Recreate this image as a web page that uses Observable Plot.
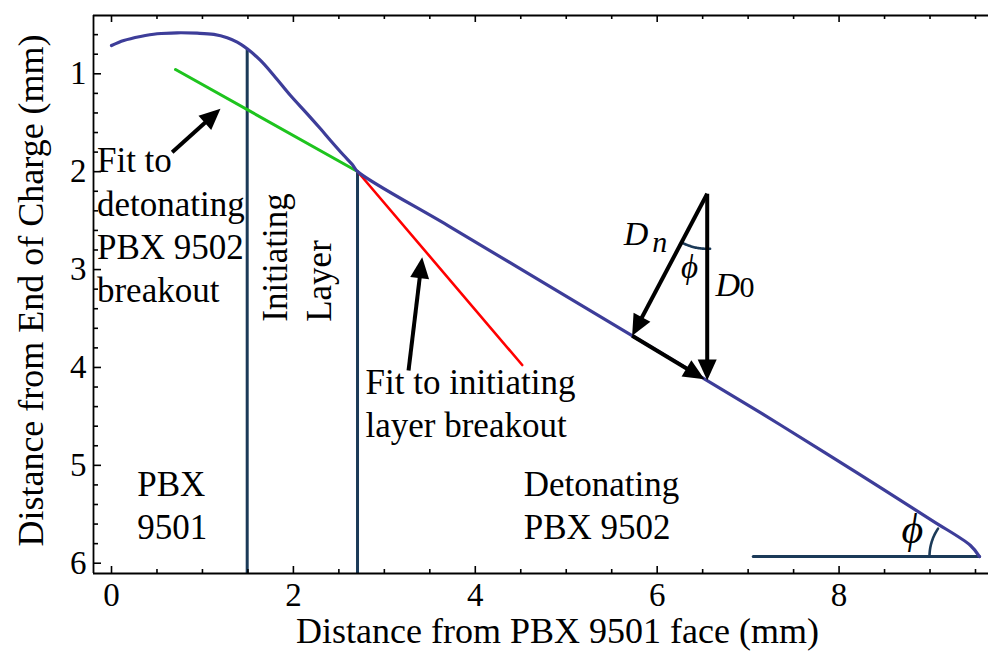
<!DOCTYPE html>
<html><head><meta charset="utf-8">
<script src="https://cdn.jsdelivr.net/npm/d3@7"></script>
<script src="https://cdn.jsdelivr.net/npm/@observablehq/plot@0.6"></script>
<style>
html,body{margin:0;padding:0;background:#fff;}
#chart svg{display:block;}
</style>
</head><body><div id="chart"></div>
<script>
// ---- measured breakout curve (distance from PBX 9501 face vs distance from end of charge, mm)
const curveX = [0.0,0.135,0.319,0.502,0.722,0.942,1.125,1.272,1.382,1.492,1.638,1.785,1.968,2.152,2.298,2.408,2.55,2.65,2.705,3.727,4.827,5.926,6.55,7.356,8.199,9.024,9.445,9.544];
const curveY = [0.711,0.66,0.619,0.591,0.581,0.585,0.598,0.632,0.677,0.745,0.864,1.017,1.222,1.409,1.562,1.681,1.83,1.93,1.998,2.566,3.177,3.788,4.134,4.588,5.078,5.564,5.819,5.932];

// ---- fits
const greenFitX = [0.704, 2.705];
const greenFitY = [0.956, 1.998];
const redFitX = [2.705, 4.516];
const redFitY = [1.998, 3.975];

// ---- boundaries (initiating layer)
const boundaryX = [1.492, 2.705];
const boundaryTopY = [0.745, 1.998];

// ---- horizontal reference line at the end
const baseLineX = [7.056, 9.544];
const baseLineY = [5.932, 5.932];

// ---- arrows
const arrowX1 = [0.667, 3.266, 6.55, 6.55, 5.725];
const arrowY1 = [1.801, 4.031, 2.226, 2.226, 3.677];
const arrowX2 = [1.198, 3.416, 5.725, 6.55, 6.52];
const arrowY2 = [1.358, 2.874, 3.677, 4.134, 4.12];

// ---- angle arcs: centres
const arcCX = [9.544, 6.55];
const arcCY = [5.932, 2.226];

// ---- text annotations
const noteText = ["Fit to\ndetonating\nPBX 9502\nbreakout", "Fit to initiating\nlayer breakout", "PBX\n9501", "Detonating\nPBX 9502"];
const noteX = [-0.16, 2.793, 0.283, 4.533];
const noteY = [3.333, 4.713, 5.751, 5.751];
const vertText = ["Initiating", "Layer"];
const vertX = [1.935, 2.408];
const vertY = [2.877, 3.117];
const mathText = ["D", "n", "\u03D5", "D", "0", "\u03D5"];
const mathX = [5.633, 5.945, 6.355, 6.641, 6.905, 8.807];
const mathY = [2.754, 2.823, 3.091, 3.265, 3.28, 5.794];

// ---- axes
const xTicks = [0, 2, 4, 6, 8];
const xMinorTicks = [0.5, 1, 1.5, 2.5, 3, 3.5, 4.5, 5, 5.5, 6.5, 7, 7.5, 8.5, 9, 9.5];
const yTicks = [1, 2, 3, 4, 5, 6];
const yMinorTicks = [0.6,0.8,1.2,1.4,1.6,1.8,2.2,2.4,2.6,2.8,3.2,3.4,3.6,3.8,4.2,4.4,4.6,4.8,5.2,5.4,5.6,5.8];
const xLabel = "Distance from PBX 9501 face (mm)";
const yLabel = "Distance from End of Charge (mm)";

// ---- layout
const W = 988, H = 651, mL = 93, mR = 0, mT = 15, mB = 78;
const xDomain = [-0.198, 9.643];
const yDomain = [0.4044, 6.105];
const kx = (W - mL - mR) / (xDomain[1] - xDomain[0]);
const ky = (H - mT - mB) / (yDomain[1] - yDomain[0]);

const curve = curveX.map((x, i) => ({x, y: curveY[i]}));
const green = greenFitX.map((x, i) => ({x, y: greenFitY[i]}));
const red = redFitX.map((x, i) => ({x, y: redFitY[i]}));
const base = baseLineX.map((x, i) => ({x, y: baseLineY[i]}));

// arrow shafts and filled heads
const headL = 21, headW = 19;
const shafts = [], heads = [];
arrowX1.forEach((x1, i) => {
  const y1 = arrowY1[i], x2 = arrowX2[i], y2 = arrowY2[i];
  const dxp = (x2 - x1) * kx, dyp = (y2 - y1) * ky;
  const L = Math.hypot(dxp, dyp), ux = dxp / L, uy = dyp / L;
  const bx = x2 - headL * ux / kx, by = y2 - headL * uy / ky;
  const sx = x2 - 0.6 * headL * ux / kx, sy = y2 - 0.6 * headL * uy / ky;
  shafts.push({x1, y1, x2: sx, y2: sy});
  const px = -uy, py = ux;
  heads.push({k: i, x: x2, y: y2});
  heads.push({k: i, x: bx + (headW / 2) * px / kx, y: by + (headW / 2) * py / ky});
  heads.push({k: i, x: bx - (headW / 2) * px / kx, y: by - (headW / 2) * py / ky});
});

// arcs
const arcs = [];
d3.range(0, 34.01, 1).forEach(t => {
  const a = t * Math.PI / 180, r = 50;
  arcs.push({k: 0, x: arcCX[0] - r * Math.cos(a) / kx, y: arcCY[0] - r * Math.sin(a) / ky});
});
d3.range(-3, 28.01, 1).forEach(t => {
  const a = t * Math.PI / 180, r = 55;
  arcs.push({k: 1, x: arcCX[1] - r * Math.sin(a) / kx, y: arcCY[1] + r * Math.cos(a) / ky});
});

const navy = "#1b3a58";
const font = "Liberation Serif, Times New Roman, serif";
const mathIdx = mathText.map((d, i) => i);
const mt = (idx, o) => Plot.text(idx, {x: i => mathX[i], y: i => mathY[i], text: i => mathText[i], lineAnchor: "bottom", fill: "black", ...o});

const chart = Plot.plot({
  width: W, height: H,
  marginLeft: mL, marginRight: mR, marginTop: mT, marginBottom: mB,
  x: {domain: xDomain, axis: null},
  y: {domain: yDomain, reverse: true, axis: null},
  style: {fontFamily: font, background: "white", color: "black", overflow: "visible"},
  marks: [
    // boundaries
    Plot.ruleX(boundaryX, {x: d => d, y1: (d, i) => boundaryTopY[i], y2: yDomain[1], stroke: navy, strokeWidth: 3}),
    Plot.line(base, {x: "x", y: "y", stroke: navy, strokeWidth: 3}),
    Plot.line(arcs, {x: "x", y: "y", z: "k", stroke: navy, strokeWidth: 2.6}),
    // fits
    Plot.line(green, {x: "x", y: "y", stroke: "#1ec41e", strokeWidth: 3}),
    Plot.line(red, {x: "x", y: "y", stroke: "#ff0000", strokeWidth: 2.6}),
    // curve
    Plot.line(curve, {x: "x", y: "y", stroke: "#3d3d99", strokeWidth: 3.2, curve: "catmull-rom"}),
    // arrows
    Plot.link(shafts, {x1: "x1", y1: "y1", x2: "x2", y2: "y2", stroke: "black", strokeWidth: 4}),
    Plot.line(heads, {x: "x", y: "y", z: "k", fill: "black", stroke: "none", curve: "linear-closed"}),
    // frame
    Plot.ruleX([xDomain[0]], {stroke: "black", strokeWidth: 1.8}),
    Plot.ruleY([yDomain[0], yDomain[1]], {stroke: "black", strokeWidth: 1.8}),
    // ticks (inward)
    Plot.ruleX(xTicks, {x: d => d, y1: yDomain[1], y2: yDomain[1] - 7 / ky, stroke: "black", strokeWidth: 1.6}),
    Plot.ruleX(xMinorTicks, {x: d => d, y1: yDomain[1], y2: yDomain[1] - 4 / ky, stroke: "black", strokeWidth: 1.6}),
    Plot.ruleX(xTicks, {x: d => d, y1: yDomain[0], y2: yDomain[0] + 7 / ky, stroke: "black", strokeWidth: 1.6}),
    Plot.ruleX(xMinorTicks, {x: d => d, y1: yDomain[0], y2: yDomain[0] + 4 / ky, stroke: "black", strokeWidth: 1.6}),
    Plot.ruleY(yTicks, {y: d => d, x1: xDomain[0], x2: xDomain[0] + 8 / kx, stroke: "black", strokeWidth: 1.6}),
    Plot.ruleY(yMinorTicks, {y: d => d, x1: xDomain[0], x2: xDomain[0] + 5 / kx, stroke: "black", strokeWidth: 1.6}),
    // tick labels
    Plot.axisX({ticks: xTicks, tickFormat: d => String(d), tickSize: 0, tickPadding: 9, fontSize: 33, label: null, fontFamily: font}),
    Plot.axisY({ticks: yTicks, tickFormat: d => String(d), tickSize: 0, tickPadding: 7, fontSize: 33, label: null, fontFamily: font}),
    // axis titles
    Plot.text([xLabel], {frameAnchor: "bottom", textAnchor: "middle", dx: 16.5, dy: 69, lineAnchor: "bottom", fontSize: 36, fill: "black"}),
    Plot.text([yLabel], {frameAnchor: "left", textAnchor: "middle", rotate: -90, dx: -51, dy: -4, lineAnchor: "bottom", fontSize: 36, fill: "black"}),
    // annotations
    Plot.text(noteText, {x: (d, i) => noteX[i], y: (d, i) => noteY[i], textAnchor: "start", lineAnchor: "bottom", lineHeight: 1.237, fontSize: 35, fill: "black"}),
    Plot.text(vertText, {x: (d, i) => vertX[i], y: (d, i) => vertY[i], rotate: -90, textAnchor: "middle", lineAnchor: "bottom", fontSize: 35, fill: "black"}),
    mt(mathIdx.filter(i => i === 0 || i === 3), {textAnchor: "start", fontSize: 34, fontStyle: "italic"}),
    mt([1], {textAnchor: "start", fontSize: 30, fontStyle: "italic"}),
    mt([4], {textAnchor: "start", fontSize: 30}),
    mt([2], {textAnchor: "middle", fontSize: 33, fontStyle: "italic"}),
    mt([5], {textAnchor: "middle", fontSize: 42, fontStyle: "italic"})
  ]
});
document.getElementById("chart").appendChild(chart);
</script>
</body></html>
